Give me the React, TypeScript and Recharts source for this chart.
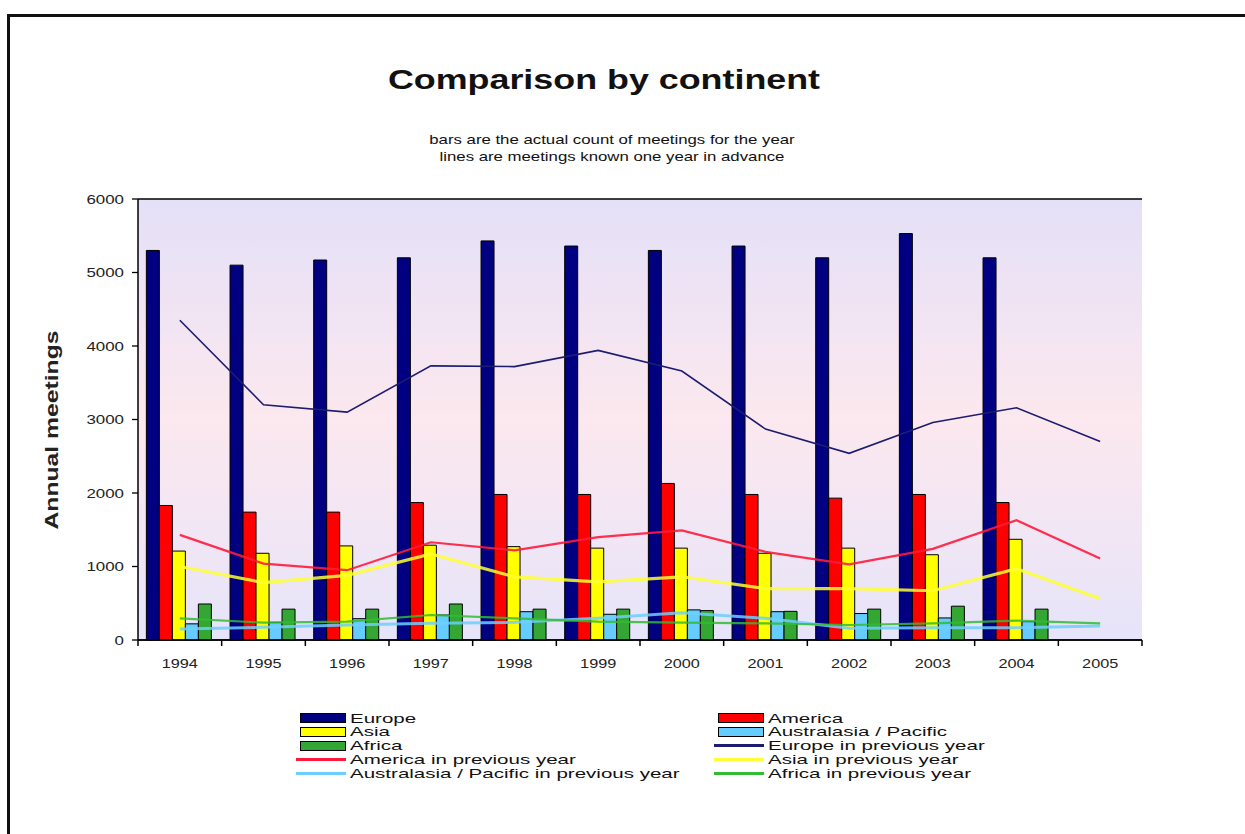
import React from 'react';
import { ComposedChart, Bar, Line, XAxis, YAxis, CartesianGrid } from 'recharts';

// ---------- data ----------
const years = ['1994', '1995', '1996', '1997', '1998', '1999', '2000', '2001', '2002', '2003', '2004', '2005'];
const europe = [5300, 5100, 5170, 5200, 5430, 5360, 5300, 5360, 5200, 5530, 5200, null];
const america = [1830, 1740, 1740, 1870, 1980, 1980, 2130, 1980, 1930, 1980, 1870, null];
const asia = [1210, 1180, 1280, 1290, 1270, 1250, 1250, 1180, 1250, 1160, 1370, null];
const australasia = [220, 240, 290, 340, 385, 350, 410, 385, 360, 300, 250, null];
const africa = [490, 420, 420, 490, 420, 420, 400, 390, 420, 460, 420, null];

const europePrev = [4350, 3200, 3100, 3730, 3720, 3940, 3660, 2870, 2540, 2960, 3160, 2700];
const americaPrev = [1430, 1040, 950, 1330, 1220, 1400, 1490, 1200, 1030, 1240, 1630, 1110];
const asiaPrev = [1000, 780, 880, 1170, 860, 790, 860, 700, 700, 670, 970, 560];
const australasiaPrev = [150, 172, 204, 227, 240, 295, 372, 295, 159, 168, 168, 190];
const africaPrev = [295, 236, 250, 340, 295, 250, 236, 227, 204, 227, 263, 227];

const yTicks = [0, 1000, 2000, 3000, 4000, 5000, 6000];

const title = 'Comparison by continent';
const subtitle = ['bars are the actual count of meetings for the year', 'lines are meetings known one year in advance'];
const yLabel = 'Annual meetings';

const barSeries = [
  { key: 'europe', name: 'Europe', color: '#000080' },
  { key: 'america', name: 'America', color: '#FF0000' },
  { key: 'asia', name: 'Asia', color: '#FFFF00' },
  { key: 'australasia', name: 'Australasia / Pacific', color: '#66CCFF' },
  { key: 'africa', name: 'Africa', color: '#33A633' },
];
const lineSeries = [
  { key: 'europePrev', name: 'Europe in previous year', color: '#1C1C70', width: 1.6, opacity: 1 },
  { key: 'americaPrev', name: 'America in previous year', color: '#FF1A3C', width: 2.2, opacity: 0.9 },
  { key: 'asiaPrev', name: 'Asia in previous year', color: '#FFFF33', width: 3.2, opacity: 0.85 },
  { key: 'australasiaPrev', name: 'Australasia / Pacific in previous year', color: '#6CCFFF', width: 3, opacity: 0.85 },
  { key: 'africaPrev', name: 'Africa in previous year', color: '#33BB33', width: 2.2, opacity: 0.85 },
];

const data = years.map((year, i) => ({
  year,
  europe: europe[i],
  america: america[i],
  asia: asia[i],
  australasia: australasia[i],
  africa: africa[i],
  europePrev: europePrev[i],
  americaPrev: americaPrev[i],
  asiaPrev: asiaPrev[i],
  australasiaPrev: australasiaPrev[i],
  africaPrev: africaPrev[i],
}));

// legend order (two columns, filled row by row)
const legendItems = [
  { ...barSeries[0], type: 'bar' },
  { ...barSeries[1], type: 'bar' },
  { ...barSeries[2], type: 'bar' },
  { ...barSeries[3], type: 'bar' },
  { ...barSeries[4], type: 'bar' },
  { ...lineSeries[0], type: 'line' },
  { ...lineSeries[1], type: 'line' },
  { ...lineSeries[2], type: 'line' },
  { ...lineSeries[3], type: 'line' },
  { ...lineSeries[4], type: 'line' },
];

// ---------- layout ----------
const W = 1245;
const H = 834;
const MARGIN = { top: 199, right: 103, bottom: 164, left: 48 };
const Y_AXIS_W = 90;
const X_AXIS_H = 30;
const FONT = '"Liberation Sans", Arial, Helvetica, sans-serif';
const STRETCH = 1.3;

const XTick = (props: any) => {
  const { x, y, payload, index } = props;
  const plotW = W - MARGIN.left - Y_AXIS_W - MARGIN.right;
  const half = plotW / years.length / 2;
  return (
    <g>
      {index === 0 && <line x1={x - half} x2={x - half} y1={y} y2={y + 6} stroke="#000" strokeWidth={1.5} />}
      <line x1={x + half} x2={x + half} y1={y} y2={y + 6} stroke="#000" strokeWidth={1.5} />
      <text
        transform={`translate(${x},${y + 28}) scale(${STRETCH},1)`}
        textAnchor="middle"
        fontFamily={FONT}
        fontSize={12.5}
        fill="#222"
      >
        {payload.value}
      </text>
    </g>
  );
};

const YTick = (props: any) => {
  const { x, y, payload } = props;
  return (
    <text
      transform={`translate(${x},${y + 4.5}) scale(${STRETCH},1)`}
      textAnchor="end"
      fontFamily={FONT}
      fontSize={13}
      fill="#222"
    >
      {payload.value}
    </text>
  );
};

const Legend = () => {
  const colX = [300, 718];
  const textGap = 4;
  const swW = 46;
  return (
    <>
      {legendItems.map((it: any, i) => {
        const col = i % 2;
        const row = Math.floor(i / 2);
        const cy = 718 + row * 13.9;
        const sx = colX[col];
        return (
          <React.Fragment key={it.key}>
            {it.type === 'bar' ? (
              <div
                style={{
                  position: 'absolute',
                  left: sx,
                  top: cy - 5,
                  width: swW - 2,
                  height: 8,
                  background: it.color,
                  border: '1px solid #000',
                }}
              />
            ) : (
              <div
                style={{
                  position: 'absolute',
                  left: sx - 4,
                  top: cy - 1.5,
                  width: swW + 4,
                  height: 3,
                  background: it.color,
                }}
              />
            )}
            <div
              style={{
                position: 'absolute',
                left: sx + swW + textGap,
                top: cy - 6.5,
                height: 13,
                lineHeight: '13px',
                fontSize: 13.5,
                fontFamily: FONT,
                color: '#111',
                whiteSpace: 'nowrap',
                transform: 'scaleX(1.52)',
                transformOrigin: 'left center',
              }}
            >
              {it.name}
            </div>
          </React.Fragment>
        );
      })}
    </>
  );
};

export default function App() {
  return (
    <div style={{ position: 'absolute', left: 0, top: 0, width: W, height: H, background: '#fff', overflow: 'hidden' }}>
      {/* outer frame (top & left edges visible) */}
      <div
        style={{
          position: 'absolute',
          left: 7,
          top: 14,
          width: W + 20,
          height: H + 20,
          borderTop: '3px solid #111',
          borderLeft: '3px solid #111',
        }}
      />
      {/* title */}
      <div
        style={{
          position: 'absolute',
          left: 604 - 300,
          width: 600,
          top: 66,
          textAlign: 'center',
          fontFamily: FONT,
          fontWeight: 'bold',
          fontSize: 28,
          lineHeight: '28px',
          color: '#111',
          transform: 'scaleX(1.28)',
          transformOrigin: 'center',
          whiteSpace: 'nowrap',
        }}
      >
        {title}
      </div>
      <div
        style={{
          position: 'absolute',
          left: 612 - 300,
          width: 600,
          top: 131,
          textAlign: 'center',
          fontFamily: FONT,
          fontSize: 13,
          lineHeight: '17px',
          color: '#111',
          transform: 'scaleX(1.29)',
          transformOrigin: 'center',
          whiteSpace: 'nowrap',
        }}
      >
        {subtitle.map((s) => (
          <div key={s}>{s}</div>
        ))}
      </div>
      {/* y axis title */}
      <div
        style={{
          position: 'absolute',
          left: 52,
          top: 430,
          fontFamily: FONT,
          fontWeight: 'bold',
          fontSize: 19,
          lineHeight: '20px',
          color: '#222',
          whiteSpace: 'nowrap',
          transform: 'translate(-50%, -50%) rotate(-90deg) scaleX(1.3)',
          transformOrigin: 'center',
        }}
      >
        {yLabel}
      </div>

      <div style={{ position: 'absolute', left: 0, top: 0 }}>
        <ComposedChart width={W} height={H} data={data} margin={MARGIN} barCategoryGap="10%" barGap={0}>
          <defs>
            <linearGradient id="plotBg" x1="0" y1="0" x2="0" y2="1">
              <stop offset="0%" stopColor="#E4E0F8" />
              <stop offset="50%" stopColor="#FCE8EE" />
              <stop offset="100%" stopColor="#E6E4FA" />
            </linearGradient>
          </defs>
          <CartesianGrid vertical={false} stroke="#000" strokeWidth={1.5} fill="url(#plotBg)" fillOpacity={1} />
          <XAxis
            dataKey="year"
            height={X_AXIS_H}
            axisLine={{ stroke: '#000', strokeWidth: 1.5 }}
            tickLine={false}
            tickSize={0}
            tickMargin={0}
            tick={<XTick />}
            interval={0}
          />
          <YAxis
            yAxisId="left"
            width={Y_AXIS_W}
            domain={[0, 6000]}
            ticks={yTicks}
            interval={0}
            axisLine={{ stroke: '#000', strokeWidth: 1.5 }}
            tickLine={{ stroke: '#000', strokeWidth: 1.3 }}
            tickSize={6}
            tickMargin={8}
            tick={<YTick />}
          />
          <YAxis
            yAxisId="right"
            orientation="right"
            width={0}
            domain={[0, 6000]}
            tick={false}
            tickLine={false}
            axisLine={{ stroke: '#333', strokeWidth: 2 }}
          />
          {barSeries.map((s) => (
            <Bar
              key={s.key}
              yAxisId="left"
              dataKey={s.key}
              name={s.name}
              fill={s.color}
              stroke="#000"
              strokeWidth={1}
              isAnimationActive={false}
            />
          ))}
          {lineSeries.map((s) => (
            <Line
              key={s.key}
              yAxisId="left"
              dataKey={s.key}
              name={s.name}
              type="linear"
              stroke={s.color}
              strokeWidth={s.width}
              strokeOpacity={s.opacity}
              dot={false}
              activeDot={false}
              isAnimationActive={false}
            />
          ))}
        </ComposedChart>
      </div>
      <Legend />
    </div>
  );
}
